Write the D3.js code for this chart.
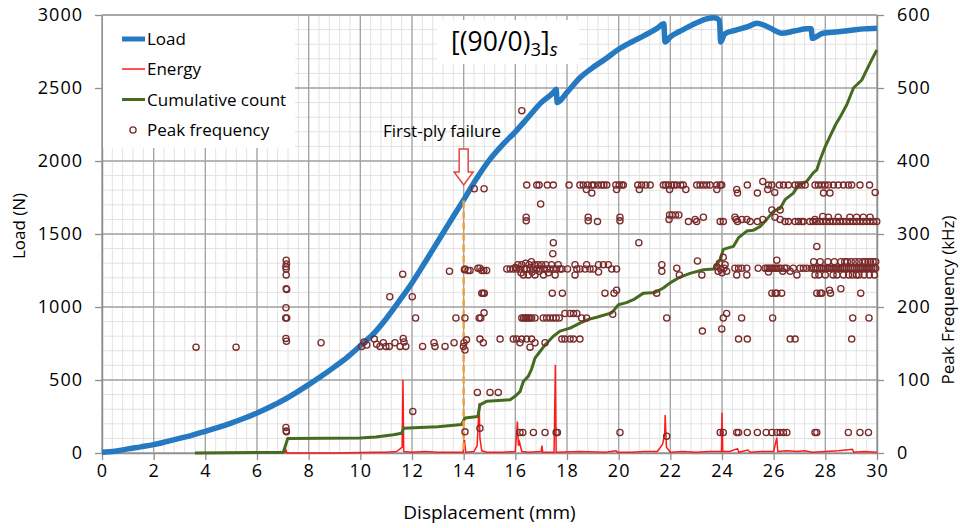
<!DOCTYPE html>
<html>
<head>
<meta charset="utf-8">
<script src="https://cdn.jsdelivr.net/npm/d3@7"></script>
<style>
  body { margin: 0; background: #fff; }
  text { font-family: "Open Sans", sans-serif; fill: #000; }
</style>
</head>
<body>
<svg id="chart" width="960" height="528"></svg>
<script>
// ---- Data ----------------------------------------------------------------
// Load (N) versus displacement (mm)
const loadDisp = [0, 0.5, 1, 1.5, 2, 2.5, 3, 3.5, 4, 4.5, 5, 5.5, 6, 6.5, 7, 7.5, 8, 8.5, 9, 9.5,
  10, 10.5, 11, 11.5, 12, 12.5, 13, 13.5, 14, 14.5, 15, 15.5, 16, 16.5, 17, 17.5, 17.58, 17.62,
  18, 18.5, 19, 19.5, 20, 20.5, 21, 21.5, 21.75, 21.79, 22, 22.5, 23, 23.4, 23.7, 23.9, 23.95,
  24.1, 24.5, 25, 25.35, 25.7, 26, 26.3, 26.8, 27.3, 27.45, 27.5, 27.9, 28.5, 29, 29.5, 30];
const loadN = [5, 12, 28, 42, 57, 78, 100, 123, 148, 175, 205, 238, 274, 315, 360, 412, 468, 527, 590, 657,
  735, 815, 920, 1040, 1165, 1305, 1449, 1592, 1734, 1880, 2008, 2110, 2200, 2300, 2400, 2475, 2492, 2400,
  2470, 2570, 2640, 2700, 2765, 2815, 2860, 2910, 2940, 2815, 2850, 2900, 2945, 2973, 2982, 2965, 2815,
  2870, 2895, 2920, 2943, 2925, 2898, 2875, 2890, 2905, 2905, 2840, 2875, 2885, 2895, 2905, 2910];

// Acoustic emission energy (drawn on the secondary axis)
const energyDisp = [7.08, 7.12, 7.16, 9.0, 10.5, 11.0, 11.4, 11.55, 11.62, 11.65, 11.68, 12.0, 12.5, 13.0, 13.5,
  13.98, 14.03, 14.08, 14.4, 14.52, 14.57, 14.6, 14.63, 14.7, 14.9, 15.5, 16.0, 16.08, 16.12, 16.16, 16.25,
  16.5, 17.0, 17.03, 17.06, 17.5, 17.55, 17.58, 18.5, 19.5, 19.9, 19.95, 20.5, 21.0, 21.5, 21.7, 21.78, 21.8,
  21.85, 22.0, 22.5, 23.0, 23.5, 23.98, 24.0, 24.03, 24.3, 24.6, 24.65, 25.0, 25.1, 25.5, 26.0, 26.12, 26.16,
  26.5, 26.9, 27.2, 27.5, 28.0, 28.5, 28.8, 29.05, 29.1, 29.5, 30];
const energyVal = [0, 4, 0, 0, 1, 1, 2, 6, 8, 100, 2, 1, 2, 1, 1,
  1, 18, 1, 2, 10, 45, 68, 20, 3, 1, 1, 2, 43, 10, 15, 2,
  1, 2, 10, 1, 1, 121, 1, 2, 1, 3, 1, 1, 2, 2, 12, 25, 52,
  8, 1, 2, 1, 2, 2, 55, 2, 2, 6, 1, 4, 1, 2, 2, 21, 2,
  3, 2, 3, 1, 2, 3, 4, 5, 1, 2, 1];

// Cumulative hit count (secondary axis)
const countDisp = [3.6, 7.02, 7.1, 7.19, 9.99, 10.6, 11.28, 11.6, 11.67, 12.3, 13.0, 13.92, 14.05, 14.55, 14.63,
  14.9, 15.8, 16.0, 16.18, 16.31, 16.5, 16.63, 16.76, 16.89, 17.15, 17.47, 17.73, 18.12, 18.5, 18.83, 19.15,
  19.73, 19.99, 20.3, 20.57, 20.96, 21.41, 21.73, 21.99, 22.38, 22.76, 23.28, 23.67, 23.93, 24.05, 24.44,
  24.64, 24.96, 25.2, 25.47, 25.73, 25.99, 26.25, 26.44, 26.76, 26.96, 27.28, 27.54, 27.67, 27.8, 28.0,
  28.2, 28.4, 28.6, 28.83, 29.09, 29.41, 29.73, 29.99];
const countVal = [0, 1, 10, 20, 20.5, 22, 25, 27, 34, 35, 36, 39, 48, 50, 66,
  71, 73, 78, 84, 98, 105, 115, 130, 136, 148, 160, 167, 171, 178, 183, 186,
  192, 203, 206, 210, 219, 220, 226, 233, 241, 246, 251, 252, 265, 279, 283,
  295, 304, 305, 310, 320, 331, 335, 347, 356, 367, 372, 384, 388, 402, 420,
  435, 450, 462, 477, 500, 511, 534, 552];

// Peak frequency (kHz) of individual hits, [displacement, kHz]
const peakLow = [[7.12, 35], [7.13, 30], [7.14, 29], [12.03, 57], [14.05, 29], [14.53, 83], [14.63, 34],
  [15.02, 83], [15.34, 83], [16.18, 28], [16.29, 28], [16.7, 28], [17.15, 28], [17.58, 28], [17.63, 28],
  [20.05, 28], [21.86, 23], [23.93, 28], [24.05, 28], [24.57, 28], [24.64, 28], [24.98, 28], [25.37, 28],
  [25.71, 28], [25.93, 28], [26.12, 28], [26.25, 28], [26.38, 28], [26.51, 28], [27.6, 28], [27.67, 28],
  [28.89, 28], [29.34, 28], [29.67, 28]];
const peak150 = [[3.64, 145], [5.19, 145], [7.12, 157], [7.14, 153], [8.48, 151], [10.05, 146], [10.14, 152],
  [10.25, 148], [10.54, 156], [10.63, 149], [10.76, 146], [10.89, 151], [10.99, 146], [11.12, 146],
  [11.34, 151], [11.54, 146], [11.66, 157], [11.69, 152], [11.76, 146], [12.41, 146], [12.85, 151],
  [12.89, 146], [13.28, 146], [13.63, 151], [13.99, 146], [14.01, 151], [14.11, 155], [14.05, 141],
  [14.63, 156], [14.76, 151], [15.41, 156], [15.92, 156], [16.05, 156], [16.18, 151], [16.25, 156],
  [16.44, 156], [16.57, 145], [16.63, 156], [16.76, 151], [17.15, 151], [17.8, 156], [17.92, 156],
  [18.12, 156], [18.25, 156], [18.5, 156], [23.24, 167], [23.99, 170], [24.64, 156], [24.98, 156],
  [26.64, 156], [26.83, 156], [29.02, 156]];
const peak200 = [[7.13, 225], [7.15, 224], [7.12, 199], [7.11, 185], [7.15, 185], [11.14, 214], [12.01, 214],
  [12.14, 185], [13.7, 185], [14.05, 185], [14.6, 185], [14.66, 185], [14.79, 192], [14.7, 219], [14.75, 219],
  [14.8, 219], [16.25, 185], [16.32, 185], [16.38, 185], [16.44, 185], [16.5, 185], [16.57, 185],
  [16.63, 185], [16.76, 185], [17.08, 185], [17.21, 185], [17.34, 185], [17.47, 185], [17.58, 185],
  [17.7, 185], [17.43, 219], [17.82, 219], [17.92, 191], [18.12, 191], [18.25, 191], [18.38, 191],
  [18.57, 185], [18.76, 185], [19.47, 219], [19.77, 190], [19.82, 219], [19.92, 223], [21.47, 219],
  [21.86, 185], [24.05, 185], [24.18, 191], [24.76, 185], [25.96, 185], [25.93, 219], [26.06, 219],
  [26.12, 219], [26.31, 219], [27.67, 219], [27.8, 219], [27.86, 219], [28.2, 219], [28.16, 223],
  [28.6, 225], [29.06, 185], [29.37, 219], [29.69, 185]];
const peak250 = [[7.13, 264], [7.14, 259], [7.12, 255], [7.13, 252], [7.13, 244], [11.64, 245], [13.45, 249],
  [14.03, 251], [14.05, 252], [14.17, 250], [14.25, 250], [14.55, 253], [14.63, 253], [14.7, 250],
  [14.78, 250], [14.89, 250], [15.67, 252], [15.8, 252], [15.92, 252], [16.0, 254], [16.05, 252],
  [16.1, 258], [16.18, 252], [16.22, 247], [16.25, 258], [16.31, 244], [16.35, 252], [16.4, 260],
  [16.44, 252], [16.5, 244], [16.53, 258], [16.57, 252], [16.62, 262], [16.65, 248], [16.7, 252],
  [16.74, 258], [16.76, 244], [16.83, 252], [16.88, 258], [16.92, 249], [16.96, 252], [17.02, 258],
  [17.09, 244], [17.12, 252], [17.18, 258], [17.22, 252], [17.28, 247], [17.34, 252], [17.4, 258],
  [17.47, 252], [17.54, 244], [17.6, 252], [17.66, 258], [17.73, 252], [17.8, 252], [18.02, 252],
  [18.31, 258], [18.31, 244], [18.38, 252], [18.5, 252], [18.7, 252], [18.76, 258], [18.89, 252],
  [19.02, 252], [19.22, 258], [19.22, 248], [19.41, 258], [19.6, 258], [19.73, 252], [19.92, 252],
  [21.67, 258], [21.67, 249], [22.25, 253], [22.35, 244], [23.05, 263], [23.22, 244], [23.8, 255],
  [23.85, 249], [23.9, 260], [23.95, 252], [24.0, 247], [24.05, 268], [24.08, 253], [24.12, 258],
  [24.18, 249], [24.5, 253], [24.57, 244], [24.64, 253], [24.77, 253], [24.96, 253], [24.96, 244],
  [25.4, 253], [25.67, 253], [25.75, 253], [25.8, 248], [25.83, 253], [25.9, 253], [25.97, 253],
  [26.05, 253], [26.12, 264], [26.12, 253], [26.2, 253], [26.28, 253], [26.35, 249], [26.42, 253],
  [26.5, 253], [26.64, 249], [26.76, 253], [26.9, 244], [27.02, 253], [27.15, 253], [27.28, 253],
  [27.45, 253], [27.55, 253], [27.62, 253], [27.7, 253], [27.78, 253], [27.85, 253], [27.92, 253],
  [28.0, 253], [28.08, 253], [28.15, 253], [28.22, 253], [28.3, 253], [28.38, 253], [28.45, 253],
  [28.52, 253], [28.6, 253], [28.68, 253], [28.75, 253], [28.82, 253], [28.9, 253], [28.98, 253],
  [29.05, 253], [29.12, 253], [29.2, 253], [29.28, 253], [29.35, 253], [29.42, 253], [29.5, 253],
  [29.58, 253], [29.65, 253], [29.72, 253], [29.8, 253], [29.88, 253], [29.95, 253],
  [27.55, 262], [27.8, 262], [28.1, 262], [28.35, 262], [28.6, 262], [28.75, 262], [28.85, 262],
  [29.0, 262], [29.15, 262], [29.3, 262], [29.45, 262], [29.55, 262], [29.65, 262], [29.75, 262],
  [29.85, 262], [29.95, 262], [27.6, 244], [27.75, 244], [28.0, 244], [28.3, 244], [28.45, 244],
  [28.7, 244], [28.9, 244], [29.05, 244], [29.2, 244], [29.3, 244], [29.5, 244], [29.7, 244], [29.9, 244]];
const peak320 = [[16.42, 323], [16.42, 318], [18.82, 323], [18.82, 318], [19.18, 317], [20.05, 323],
  [20.05, 318], [21.95, 320], [21.97, 326], [22.07, 326], [22.2, 326], [22.33, 326], [22.7, 317],
  [22.96, 320], [23.02, 317], [23.28, 323], [23.93, 317], [24.05, 317], [24.5, 323], [24.55, 320],
  [24.6, 317], [24.77, 320], [24.96, 320], [25.09, 317], [25.37, 317], [25.58, 320], [25.93, 333],
  [26.25, 333], [26.05, 323], [26.25, 320], [26.44, 317], [26.57, 317], [26.83, 317], [26.96, 317],
  [27.09, 317], [27.15, 317], [27.4, 317], [27.52, 317], [27.65, 317], [27.78, 317], [27.91, 317],
  [28.04, 317], [28.17, 317], [28.3, 317], [28.43, 317], [28.56, 317], [28.69, 317], [28.82, 317],
  [28.95, 317], [29.08, 317], [29.21, 317], [29.34, 317], [29.47, 317], [29.6, 317], [29.73, 317],
  [29.86, 317], [29.99, 317], [28.12, 323], [28.5, 323], [28.95, 323], [29.21, 323], [29.47, 323],
  [29.73, 323], [27.6, 320], [27.9, 324]];
const peak365 = [[14.41, 362], [14.79, 362], [16.44, 367], [16.83, 367], [16.92, 367], [17.24, 367],
  [17.47, 367], [18.08, 367], [18.5, 367], [18.63, 367], [18.75, 361], [18.79, 367], [18.96, 367],
  [18.96, 356], [19.05, 367], [19.21, 367], [19.34, 367], [19.43, 367], [19.54, 367], [19.89, 367],
  [19.92, 361], [20.02, 367], [20.12, 367], [20.18, 367], [20.74, 367], [20.8, 361], [20.89, 367],
  [21.05, 367], [21.22, 367], [21.73, 367], [21.82, 367], [21.92, 367], [21.97, 361], [22.05, 367],
  [22.14, 367], [22.24, 367], [22.4, 367], [22.5, 367], [22.6, 361], [23.02, 367], [23.15, 367],
  [23.28, 367], [23.41, 367], [23.54, 367], [23.8, 367], [23.8, 361], [23.93, 367], [23.99, 367],
  [24.57, 361], [24.6, 356], [24.98, 367], [25.37, 356], [25.58, 372], [25.77, 361], [25.8, 367],
  [25.93, 367], [26.04, 357], [26.22, 367], [26.38, 367], [26.57, 367], [26.83, 367], [26.96, 367],
  [27.09, 367], [27.22, 367], [27.6, 367], [27.73, 367], [27.86, 367], [27.93, 356], [27.99, 367],
  [28.12, 367], [28.18, 356], [28.31, 367], [28.5, 367], [28.7, 367], [28.89, 367], [29.02, 367],
  [29.34, 367], [29.71, 367], [29.93, 357]];
const peakOther = [[16.25, 469], [16.98, 341], [17.47, 288], [17.45, 273], [20.78, 288], [27.67, 283]];

// Axis ticks
const xTicks = [0, 2, 4, 6, 8, 10, 12, 14, 16, 18, 20, 22, 24, 26, 28, 30];
const loadTicks = [0, 500, 1000, 1500, 2000, 2500, 3000];
const freqTicks = [0, 100, 200, 300, 400, 500, 600];

const firstPlyDisp = 14;
const firstPlyLoad = 1730;

// ---- Layout ------------------------------------------------------------------
const svg = d3.select("#chart");
const L = 102, R = 877, T = 15, B = 453;

const x = d3.scaleLinear().domain([0, 30]).range([L, R]);
const yLoad = d3.scaleLinear().domain([0, 3000]).range([B, T]);
const yFreq = d3.scaleLinear().domain([0, 600]).range([B, T]);

// Gridlines: fine grid, then main grid
const grid = svg.append("g");
grid.selectAll("line.vmin").data(d3.range(0, 30.001, 0.4)).join("line")
  .attr("x1", d => x(d)).attr("x2", d => x(d)).attr("y1", T).attr("y2", B)
  .attr("stroke", "#e2e2e2").attr("stroke-width", 1);
grid.selectAll("line.hmin").data(d3.range(0, 3000.1, 100)).join("line")
  .attr("y1", d => yLoad(d)).attr("y2", d => yLoad(d)).attr("x1", L).attr("x2", R)
  .attr("stroke", "#e2e2e2").attr("stroke-width", 1);
grid.selectAll("line.vmaj").data(xTicks).join("line")
  .attr("x1", d => x(d)).attr("x2", d => x(d)).attr("y1", T).attr("y2", B)
  .attr("stroke", "#a3a3a3").attr("stroke-width", 1.3);
grid.selectAll("line.hmaj").data(loadTicks).join("line")
  .attr("y1", d => yLoad(d)).attr("y2", d => yLoad(d)).attr("x1", L).attr("x2", R)
  .attr("stroke", "#a3a3a3").attr("stroke-width", 1.3);

// Axes
function styleAxis(g) {
  g.select(".domain").attr("stroke", "#8f8f8f").attr("stroke-width", 1.5);
  g.selectAll(".tick line").attr("stroke", "#8f8f8f").attr("stroke-width", 1.3);
  g.selectAll(".tick text").attr("font-family", "Open Sans, sans-serif").attr("font-size", 18)
    .attr("letter-spacing", 1).attr("fill", "#000");
}
svg.append("g").attr("transform", `translate(0,${B})`)
  .call(d3.axisBottom(x).tickValues(xTicks).tickFormat(d3.format("d")).tickSizeInner(7).tickSizeOuter(0).tickPadding(4))
  .call(styleAxis);
svg.append("g").attr("transform", `translate(${L},0)`)
  .call(d3.axisLeft(yLoad).tickValues(loadTicks).tickFormat(d3.format("d")).tickSizeInner(7).tickSizeOuter(0).tickPadding(12))
  .call(styleAxis);
svg.append("g").attr("transform", `translate(${R},0)`)
  .call(d3.axisRight(yFreq).tickValues(freqTicks).tickFormat(d3.format("d")).tickSizeInner(7).tickSizeOuter(0).tickPadding(13))
  .call(styleAxis);
svg.append("line").attr("x1", L).attr("x2", R).attr("y1", T).attr("y2", T)
  .attr("stroke", "#a3a3a3").attr("stroke-width", 1.5);

// Axis titles
svg.append("text").attr("x", x(15)).attr("y", 519).attr("text-anchor", "middle")
  .attr("font-size", 19).text("Displacement (mm)");
svg.append("text").attr("transform", "translate(25,226) rotate(-90)").attr("text-anchor", "middle")
  .attr("font-size", 17).text("Load (N)");
svg.append("text").attr("transform", "translate(954,300) rotate(-90)").attr("text-anchor", "middle")
  .attr("font-size", 17).text("Peak Frequency (kHz)");

// Series
const loadData = loadDisp.map((d, i) => [d, loadN[i]]);
svg.append("path").datum(loadData)
  .attr("d", d3.line().x(d => x(d[0])).y(d => yLoad(d[1])).curve(d3.curveMonotoneX))
  .attr("fill", "none").attr("stroke", "#2479c1").attr("stroke-width", 5.5).attr("stroke-linejoin", "round");

const energyData = energyDisp.map((d, i) => [d, energyVal[i]]);
svg.append("path").datum(energyData)
  .attr("d", d3.line().x(d => x(d[0])).y(d => yFreq(d[1])))
  .attr("fill", "none").attr("stroke", "#ff1a1a").attr("stroke-width", 1.5);

const countData = countDisp.map((d, i) => [d, countVal[i]]);
svg.append("path").datum(countData)
  .attr("d", d3.line().x(d => x(d[0])).y(d => yFreq(d[1])))
  .attr("fill", "none").attr("stroke", "#466a1f").attr("stroke-width", 3).attr("stroke-linejoin", "round");

// First-ply failure marker
svg.append("line").attr("x1", x(firstPlyDisp)).attr("x2", x(firstPlyDisp))
  .attr("y1", yLoad(firstPlyLoad)).attr("y2", B)
  .attr("stroke", "#f3a03c").attr("stroke-width", 2.5).attr("stroke-dasharray", "7,4");

const peakAll = [].concat(peakLow, peak150, peak200, peak250, peak320, peak365, peakOther);
svg.append("g").selectAll("circle").data(peakAll).join("circle")
  .attr("cx", d => x(d[0])).attr("cy", d => yFreq(d[1])).attr("r", 3.1)
  .attr("fill", "none").attr("stroke", "#7a2a2a").attr("stroke-width", 1.3);

// Annotation arrow and label
const ax = x(firstPlyDisp);
svg.append("path")
  .attr("d", `M${ax - 4.5},149 L${ax + 4.5},149 L${ax + 4.5},172 L${ax + 9.5},172 L${ax},185 L${ax - 9.5},172 L${ax - 4.5},172 Z`)
  .attr("fill", "#fff").attr("stroke", "#e4463f").attr("stroke-width", 1.5);
svg.append("text").attr("x", 383).attr("y", 137).attr("font-size", 17).text("First-ply failure");

// Title box
svg.append("rect").attr("x", 437).attr("y", 20).attr("width", 142).attr("height", 44).attr("fill", "#fff");
const title = svg.append("text").attr("x", 451).attr("y", 51)
  .attr("font-family", "DejaVu Serif, serif").attr("font-size", 26.5);
title.append("tspan").text("[(90/0)");
title.append("tspan").attr("font-size", 18.5).attr("dy", 5).text("3");
title.append("tspan").attr("dy", -5).text("]");
title.append("tspan").attr("font-size", 18.5).attr("font-style", "italic").attr("dy", 5).text("s");

// Legend
const legend = svg.append("g");
legend.append("rect").attr("x", 103).attr("y", 16).attr("width", 192).attr("height", 132).attr("fill", "#fff");
const legendItems = [
  { label: "Load", y: 39, kind: "line", color: "#2479c1", w: 5 },
  { label: "Energy", y: 69, kind: "line", color: "#ff1a1a", w: 1.5 },
  { label: "Cumulative count", y: 99.5, kind: "line", color: "#466a1f", w: 3 },
  { label: "Peak frequency", y: 130, kind: "circle", color: "#7a2a2a" }
];
legendItems.forEach(it => {
  if (it.kind === "line") {
    legend.append("line").attr("x1", 122).attr("x2", 145).attr("y1", it.y).attr("y2", it.y)
      .attr("stroke", it.color).attr("stroke-width", it.w);
  } else {
    legend.append("circle").attr("cx", 133).attr("cy", it.y).attr("r", 3.1)
      .attr("fill", "none").attr("stroke", it.color).attr("stroke-width", 1.3);
  }
  legend.append("text").attr("x", 147).attr("y", it.y + 6).attr("font-size", 17).text(it.label);
});
</script>
</body>
</html>
